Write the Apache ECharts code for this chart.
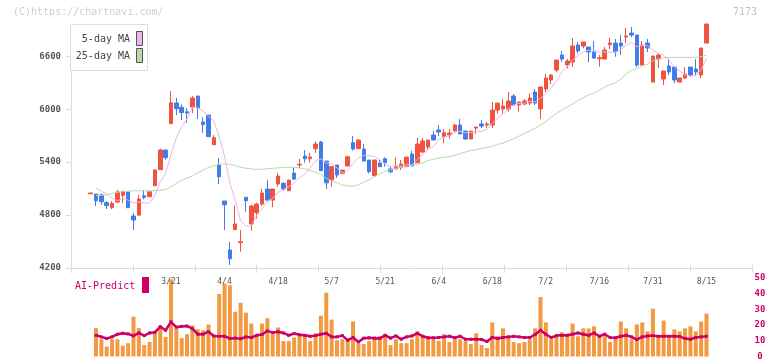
<!DOCTYPE html>
<html><head><meta charset="utf-8">
<script src="https://cdn.jsdelivr.net/npm/echarts@6/dist/echarts.min.js"></script>
<style>html,body{margin:0;padding:0;background:#fff}#c{width:772px;height:361px}</style>
</head><body><div id="c"></div>
<script>
// ---- data ----
const openP = [
5040,5038,5027,4940,4883,4948,5024,5061,4789,4800,
5019,5008,5132,5314,5537,5835,6069,6021,5971,6024,
6149,5854,5933,5597,5367,4959,4404,4634,4487,5001,
4699,4827,4925,5095,4970,5152,5160,5076,5276,5367,
5469,5438,5552,5628,5412,5197,5367,5273,5356,5620,
5552,5548,5424,5246,5390,5438,5322,5322,5341,5348,
5492,5393,5514,5571,5707,5764,5688,5707,5752,5820,
5752,5662,5786,5832,5820,5820,5990,6001,6001,6149,
6047,6058,6069,6194,6001,6228,6330,6443,6613,6500,
6534,6727,6715,6704,6647,6571,6568,6730,6749,6749,
6817,6863,6840,6500,6749,6307,6568,6341,6489,6477,
6307,6353,6477,6455,6387,6749];
const closeP = [
5050,4962,4951,4906,4933,5061,5069,4883,4744,4982,
5001,5064,5310,5537,5450,6073,6005,5960,5956,6126,
6016,5824,5688,5676,5234,4917,4305,4699,4498,4963,
4902,4925,5050,4970,5095,5242,5095,5197,5208,5375,
5438,5458,5605,5302,5166,5348,5254,5310,5461,5548,
5650,5412,5291,5424,5348,5393,5291,5348,5378,5458,
5356,5605,5639,5650,5650,5741,5733,5730,5820,5718,
5662,5752,5798,5809,5832,5990,6069,6035,6092,6047,
6081,6092,6126,6069,6251,6353,6387,6557,6568,6545,
6715,6659,6761,6647,6579,6583,6670,6749,6651,6715,
6829,6840,6500,6727,6693,6602,6613,6432,6421,6330,
6353,6398,6387,6421,6693,6965];
const lowP = [
5040,4902,4914,4868,4868,4933,4936,4883,4631,4789,
4978,5008,5132,5314,5427,5835,5933,5877,5846,5956,
5888,5733,5688,5597,5152,4631,4234,4634,4385,4838,
4623,4759,4902,4951,4888,5121,5076,5076,5197,5330,
5393,5393,5506,5302,5095,5121,5220,5262,5356,5529,
5552,5412,5273,5234,5348,5348,5273,5322,5310,5348,
5356,5393,5506,5545,5650,5696,5613,5665,5752,5718,
5650,5662,5718,5786,5786,5786,5945,5953,5971,6047,
5971,6047,6047,6047,5888,6194,6285,6417,6537,6462,
6481,6632,6689,6531,6571,6481,6568,6681,6594,6613,
6749,6817,6477,6500,6647,6307,6466,6273,6387,6296,
6307,6341,6364,6387,6353,6749];
const highP = [
5050,5038,5046,4959,4959,5084,5069,5061,4823,5027,
5084,5064,5322,5552,5537,6205,6129,6055,6009,6149,
6149,5907,5933,5707,5446,4959,4495,4906,4631,5001,
4917,4940,5095,5197,5095,5276,5170,5197,5336,5435,
5537,5506,5636,5640,5412,5356,5367,5310,5472,5696,
5658,5605,5424,5424,5424,5454,5348,5454,5424,5458,
5529,5673,5673,5650,5756,5820,5775,5775,5832,5888,
5752,5752,5798,5877,5854,6081,6069,6115,6194,6171,
6081,6115,6179,6228,6251,6398,6398,6557,6659,6568,
6806,6761,6761,6704,6772,6613,6704,6806,6795,6840,
6919,6931,6840,6772,6795,6602,6636,6432,6568,6477,
6353,6477,6477,6568,6693,6965];
const ma5 = [
null,5103,5072,5038,4990,4963,4984,4970,4938,4948,
4936,4935,5020,5179,5272,5487,5675,5805,5889,6024,
6013,5976,5922,5866,5688,5468,5164,4966,4731,4676,
4673,4797,4868,4962,4988,5056,5090,5120,5167,5223,
5263,5335,5417,5436,5394,5376,5335,5276,5308,5384,
5445,5476,5472,5465,5425,5374,5349,5361,5352,5374,
5366,5429,5487,5542,5580,5657,5683,5701,5735,5748,
5733,5736,5750,5748,5771,5836,5900,5947,6004,6047,
6065,6069,6088,6083,6124,6178,6237,6323,6423,6482,
6554,6609,6650,6665,6672,6646,6648,6646,6646,6674,
6723,6757,6707,6722,6718,6672,6627,6613,6552,6480,
6430,6387,6378,6378,6450,6573];
const ma25 = [
null,5020,5025,5030,5045,5058,5065,5072,5074,5074,
5074,5075,5076,5080,5088,5120,5160,5195,5220,5240,
5280,5310,5340,5360,5375,5378,5376,5360,5342,5330,
5322,5318,5320,5325,5330,5335,5338,5341,5341,5335,
5322,5305,5285,5260,5215,5190,5165,5140,5130,5128,
5140,5170,5200,5235,5270,5295,5312,5330,5341,5350,
5365,5375,5390,5420,5430,5445,5455,5462,5475,5495,
5515,5530,5540,5555,5565,5580,5600,5615,5640,5665,
5695,5725,5755,5785,5820,5860,5910,5950,5990,6025,
6060,6100,6130,6160,6180,6215,6250,6280,6300,6340,
6400,6440,6460,6490,6510,6550,6570,6582,6587,6587,
6587,6587,6587,6587,6595,6612];
const aiBars = [
null,18.1,11,6.3,11,11,6.9,8.5,25.4,18.1,
7.3,9.2,14.8,19.4,12.5,49.2,17.7,11.7,14.2,19.8,
17.3,16.7,20.4,12.9,39.8,46.5,45.4,28.5,34.2,27.9,
21,13.1,21,24.4,14.2,18.5,9.8,9.8,12.1,14,
13.5,9.8,14.8,26,40.6,23.5,10.4,11,11,22.3,
8.1,7.9,9.8,12.5,13.1,14.2,7.3,11,8.5,8.5,
11,16,13.5,11.7,11,9.8,14.2,9.2,11,11,
9.8,7.9,14.8,7.3,5.4,21.7,12.9,17.9,11.7,9.2,
8.5,9.2,11,17.9,37.9,21.7,11,12.9,15.4,14.2,
21,12.9,17.9,17.9,19.2,13.5,12.9,9.2,12.3,22.3,
17.9,11,20.4,21.7,16,30.4,13.5,22.9,12.9,17.3,
16,17.9,19.2,16,22.3,27.3];
const aiLine = [
null,13.5,12.5,11.5,12.5,14.2,14.8,14.4,13.1,15,
13.3,15,15.4,19,16.7,22.1,18.7,19.2,19.4,17.7,
14.2,14.2,15.8,13.1,12.9,12.9,11.5,11.7,11.3,12.5,
12.1,13.5,14,16.3,15.2,15.8,15,13.5,14.6,13.8,
13.5,12.9,13.3,14.2,14.8,12.5,12.5,13.3,10.4,12.1,
9.2,11.7,11.9,11.7,11.5,13.5,11.7,13.1,11,12.5,
13.1,14.8,12.9,11.9,11.9,12.1,12.5,12.9,11.9,12.9,
11,11,11,10.8,9.6,12.1,11.5,12.1,12.5,12.9,
12.5,12.1,12.1,14,16.7,14.2,12.1,13.3,13.5,13.5,
14.2,15,14.2,13.5,15,12.9,14.2,12.1,11.9,12.9,
13.5,12.5,10.8,12.5,13.1,13.3,12.9,12.9,12.9,12.9,
12.7,11.5,11,12.1,12.5,12.9];
const yTicks = [4200, 4800, 5400, 6000, 6600];
const tickIdx = [15, 25, 35, 45, 55, 65, 75, 85, 95, 105, 115];
const tickLabels = ['3/21','4/4','4/18','5/7','5/21','6/4','6/18','7/2','7/16','7/31','8/15'];

// ---- build ----
const FONT = '"DejaVu Sans Mono", "Liberation Mono", monospace';
const RED = '#f0533f', BLUE = '#417ce9';
const X_MIN = -3.67, X_MAX = 123.5;
const idx = openP.map((_, i) => i);
const candles = idx.map(i => [i, openP[i], closeP[i], lowP[i], highP[i]]);
const pair = arr => idx.map(i => [i, arr[i]]);

const chart = echarts.init(document.getElementById('c'), null, {renderer: 'canvas'});
const gridL = 71, gridR = 20;
chart.setOption({
  animation: false,
  grid: [
    {left: gridL, right: gridR, top: 24, height: 244},
    {left: gridL, right: gridR, top: 278, height: 79.7}
  ],
  xAxis: [
    {gridIndex: 0, type: 'value', min: X_MIN, max: X_MAX, position: 'bottom', z: 10,
     axisLine: {show: false, onZero: false}, axisTick: {show: false}, splitLine: {show: false},
     axisLabel: {customValues: tickIdx, formatter: v => tickLabels[tickIdx.indexOf(Math.round(v))] || '',
       margin: 10, fontSize: 8, color: '#555', fontFamily: FONT}},
    {gridIndex: 0, type: 'value', min: 0, max: 11, interval: 1, position: 'bottom',
     axisLine: {show: true, onZero: false, lineStyle: {color: '#dcdcdc', width: 1}},
     axisTick: {show: true, length: 5, lineStyle: {color: '#dcdcdc'}},
     axisLabel: {show: false}, splitLine: {show: false}},
    {gridIndex: 0, type: 'value', min: 0, max: 11, interval: 1, position: 'bottom',
     axisLine: {show: false, onZero: false},
     axisTick: {show: true, inside: true, length: 3, lineStyle: {color: '#dcdcdc'}},
     axisLabel: {show: false}, splitLine: {show: false}},
    {gridIndex: 1, type: 'value', min: X_MIN, max: X_MAX, show: false, axisLine: {onZero: false}, splitLine: {show: false}}
  ],
  yAxis: [
    {gridIndex: 0, type: 'value', min: 4200, max: 'dataMax', position: 'left',
     axisLine: {show: true, onZero: false, lineStyle: {color: '#dcdcdc'}},
     axisTick: {show: true, customValues: yTicks, length: 5, lineStyle: {color: '#dcdcdc'}},
     axisLabel: {customValues: yTicks, formatter: v => String(v), fontSize: 9, fontWeight: 'bold', color: '#555', margin: 10, fontFamily: FONT},
     splitLine: {show: false}},
    {gridIndex: 1, type: 'value', min: 0, max: 50, interval: 10, position: 'right',
     axisLine: {show: false, onZero: false}, axisTick: {show: false}, splitLine: {show: false},
     axisLabel: {fontSize: 9, fontWeight: 'bold', color: '#cc0066', align: 'center', margin: 8, fontFamily: FONT}}
  ],
  series: [
    {type: 'candlestick', xAxisIndex: 0, yAxisIndex: 0, data: candles, barWidth: 4,
     itemStyle: {color: RED, color0: BLUE, borderColor: RED, borderColor0: BLUE, borderWidth: 1}, z: 2},
    {type: 'line', xAxisIndex: 0, yAxisIndex: 0, data: pair(ma25), symbol: 'none', silent: true,
     lineStyle: {color: '#b5dba6', width: 1}, z: 3},
    {type: 'line', xAxisIndex: 0, yAxisIndex: 0, data: pair(ma5), symbol: 'none', silent: true,
     lineStyle: {color: '#e9b5ea', width: 1}, z: 3},
    {type: 'bar', xAxisIndex: 3, yAxisIndex: 1, data: pair(aiBars), barWidth: 4,
     itemStyle: {color: '#f29a42'}, z: 2},
    {type: 'line', xAxisIndex: 3, yAxisIndex: 1, data: pair(aiLine), symbol: 'rect', symbolSize: 3,
     lineStyle: {color: '#cc0066', width: 2.5}, itemStyle: {color: '#cc0066'}, z: 3}
  ],
  graphic: [
    {type: 'text', x: 13, y: 12.5, z: 100, style: {text: '(C)https://chartnavi.com/', font: '10px ' + FONT, fill: '#cfcfcf', align: 'left', verticalAlign: 'middle'}},
    {type: 'text', x: 757, y: 12.5, z: 100, style: {text: '7173', font: '10px ' + FONT, fill: '#c4c4c4', align: 'right', verticalAlign: 'middle'}},
    {type: 'rect', z: 100, shape: {x: 70.5, y: 24.5, width: 77, height: 46}, style: {fill: '#fff', stroke: '#dddddd', lineWidth: 1}},
    {type: 'text', x: 130, y: 39.5, z: 101, style: {text: '5-day MA', font: '10px ' + FONT, fill: '#444', align: 'right', verticalAlign: 'middle'}},
    {type: 'rect', z: 101, shape: {x: 136.5, y: 31.5, width: 6, height: 14}, style: {fill: '#e9b5ea', stroke: '#555', lineWidth: 1}},
    {type: 'text', x: 130, y: 56, z: 101, style: {text: '25-day MA', font: '10px ' + FONT, fill: '#444', align: 'right', verticalAlign: 'middle'}},
    {type: 'rect', z: 101, shape: {x: 136.5, y: 48.5, width: 6, height: 14}, style: {fill: '#b5dba6', stroke: '#555', lineWidth: 1}},
    {type: 'text', x: 75, y: 286, z: 101, style: {text: 'AI-Predict', font: '10px ' + FONT, fill: '#cc0066', align: 'left', verticalAlign: 'middle'}},
    {type: 'rect', z: 101, shape: {x: 142, y: 277, width: 7, height: 16}, style: {fill: '#cc0066'}}
  ]
});
</script></body></html>
